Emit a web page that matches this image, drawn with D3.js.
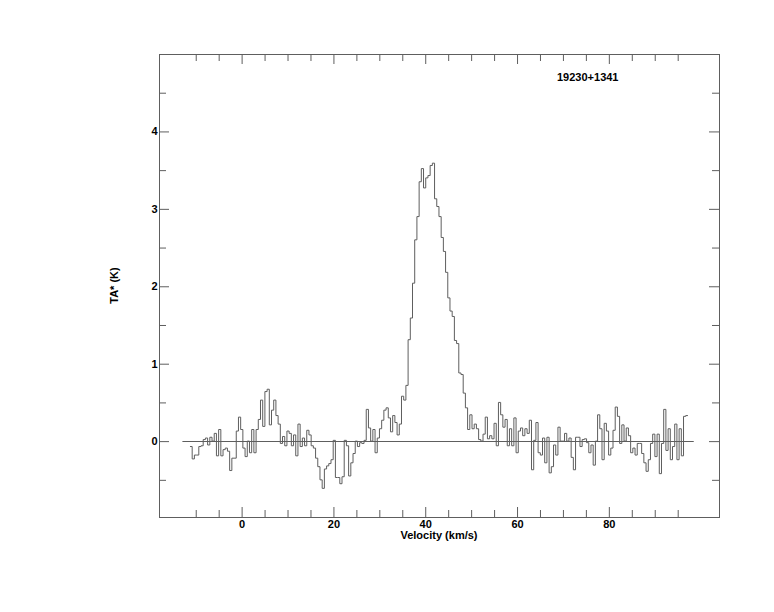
<!DOCTYPE html>
<html>
<head>
<meta charset="utf-8">
<script src="https://cdn.jsdelivr.net/npm/d3@7"></script>
<style>
	body { margin: 0; background: #fff; }
	text { font-family: "Liberation Sans", Arial, sans-serif; font-weight: bold; fill: #000; }
</style>
</head>
<body>
<svg width="774" height="612"></svg>
<script>
// spectrum of 19230+1341, one value per channel (K)
const sourceName = "19230+1341";
const vStart = -11.25;   // left edge of first channel, km/s
const dv = 0.48;         // channel width, km/s
const ta = [
	-0.07, -0.23, -0.18, -0.18, -0.07, -0.06, 0.02, 0.04, -0.05, 0.05,
	0.0, 0.1, -0.19, 0.15, -0.19, -0.11, -0.09, -0.13, -0.38, -0.22,
	-0.22, 0.13, 0.31, 0.15, -0.09, -0.2, 0.0, -0.15, 0.15, -0.15,
	0.15, 0.28, 0.53, 0.19, 0.64, 0.67,
	0.21, 0.4, 0.53, 0.33, 0.22, -0.03, 0.06, -0.06, 0.13, 0.1,
	-0.06, 0.08, -0.19, 0.22, -0.07, 0.04, -0.06, 0.14, 0.08, -0.06,
	-0.09, -0.22, -0.33, -0.5, -0.61, -0.36, -0.32, -0.29, -0.24, 0.01,
	-0.47, -0.47, -0.55, -0.46, 0.01, -0.06, -0.45, -0.28, -0.16, 0.0,
	-0.07, -0.02, -0.03, 0.01, 0.41, 0.17, 0.0, 0.15, -0.15, 0.04,
	0.16, 0.27, 0.4, 0.43, 0.3, 0.12, 0.33, 0.24, 0.08, 0.22,
	0.58, 0.53, 0.72,
	1.31, 1.59, 2.04, 2.6, 2.9, 3.35, 3.52, 3.27, 3.4, 3.43,
	3.56, 3.59, 3.13, 3.03, 2.9, 2.63, 2.45, 2.18, 1.85, 1.68,
	1.61, 1.3, 1.26, 0.88, 0.86, 0.62,
	0.43, 0.15, 0.34, 0.16, 0.22, 0.16, 0.02, 0.0, 0.09, 0.31,
	0.03, 0.07, 0.03, 0.23, -0.06, 0.5, 0.34, 0.18, 0.28, -0.06,
	0.16, -0.06, 0.3, -0.15, 0.13, 0.17, 0.07, 0.16, 0.1, 0.27,
	-0.37, 0.01, 0.24, -0.15, -0.18, 0.04, -0.28, 0.05, -0.41, -0.33,
	-0.05, -0.18, 0.18, 0.0, 0.0, 0.1, 0.0,
	0.04, -0.21, -0.37, 0.05, 0.05, -0.07, 0.02, 0.03, -0.02, -0.15,
	-0.05, -0.31, 0.0, 0.34, 0.16, -0.24, 0.23, 0.13, -0.18, -0.09,
	0.14, 0.44, 0.32, -0.03, 0.21, 0.0, 0.17, 0.07, -0.15, -0.09,
	-0.18, -0.03, -0.03, -0.16, -0.28, -0.39, -0.24, -0.03, 0.09, -0.2,
	0.09, -0.42, -0.03, 0.41, -0.12, 0.16, -0.24, -0.07, 0.22, -0.24,
	0.16, -0.19, 0.32, 0.33
];
const baseRange = [-12.9, 98.5];   // extent of the zero baseline
const xTicks = d3.range(-10, 96, 5);
const xLabels = [0, 20, 40, 60, 80];
const yTicks = d3.range(-0.5, 4.6, 0.5);
const yLabels = [0, 1, 2, 3, 4];

const pLeft = 159, pRight = 719, pTop = 54, pBottom = 517;
const ink = "#5e5e5e";

const x = d3.scaleLinear().domain([-18, 104]).range([pLeft, pRight]);
const y = d3.scaleLinear().domain([-0.98, 5]).range([pBottom, pTop]);

const svg = d3.select("svg");

// frame
svg.append("rect")
	.attr("x", pLeft + 0.5).attr("y", pTop + 0.5)
	.attr("width", pRight - pLeft).attr("height", pBottom - pTop)
	.attr("fill", "none").attr("stroke", ink);

function ticks(axis, tr, vals, size, fmt) {
	const g = svg.append("g")
		.attr("transform", tr)
		.call(axis.tickValues(vals).tickSize(size).tickPadding(fmt ? 3 : 0)
			.tickFormat(fmt || ""));
	g.select(".domain").remove();
	g.selectAll("line").attr("stroke", ink);
	g.selectAll("text").attr("font-size", 11).attr("font-family", null).attr("fill", null);
	return g;
}

// minor ticks, all four sides, pointing inward
ticks(d3.axisBottom(x), `translate(0,${pBottom})`, xTicks.filter(d => d % 20), -7);
ticks(d3.axisTop(x), `translate(0,${pTop})`, xTicks.filter(d => d % 20), -7);
ticks(d3.axisLeft(y), `translate(${pLeft},0)`, yTicks.filter(d => d % 1), -7);
ticks(d3.axisRight(y), `translate(${pRight},0)`, yTicks.filter(d => d % 1), -7);
// major ticks
ticks(d3.axisBottom(x), `translate(0,${pBottom})`, xLabels, -10, d3.format("d"));
ticks(d3.axisTop(x), `translate(0,${pTop})`, xLabels, -10);
const yl = ticks(d3.axisLeft(y), `translate(${pLeft},0)`, yLabels, -10, d3.format("d"));
yl.selectAll("text").attr("x", -1.5);
ticks(d3.axisRight(y), `translate(${pRight},0)`, yLabels, -10);

// zero baseline
svg.append("line")
	.attr("x1", x(baseRange[0])).attr("x2", x(baseRange[1]))
	.attr("y1", Math.round(y(0)) + 0.5).attr("y2", Math.round(y(0)) + 0.5)
	.attr("stroke", ink);

// histogram of the spectrum
const pts = ta.map((t, i) => [vStart + i * dv, t]);
pts.push([vStart + ta.length * dv, ta[ta.length - 1]]);

svg.append("path")
	.datum(pts)
	.attr("fill", "none")
	.attr("stroke", ink)
	.attr("stroke-width", 1)
	.attr("d", d3.line()
		.x(d => x(d[0]))
		.y(d => y(d[1]))
		.curve(d3.curveStepAfter));

// labels
svg.append("text")
	.attr("x", (pLeft + pRight) / 2).attr("y", 539)
	.attr("text-anchor", "middle").attr("font-size", 11)
	.text("Velocity (km/s)");

svg.append("text")
	.attr("transform", `translate(118,${(pTop + pBottom) / 2}) rotate(-90)`)
	.attr("text-anchor", "middle").attr("font-size", 11)
	.text("TA* (K)");

svg.append("text")
	.attr("x", 557).attr("y", 81)
	.attr("font-size", 11)
	.text(sourceName);
</script>
</body>
</html>
